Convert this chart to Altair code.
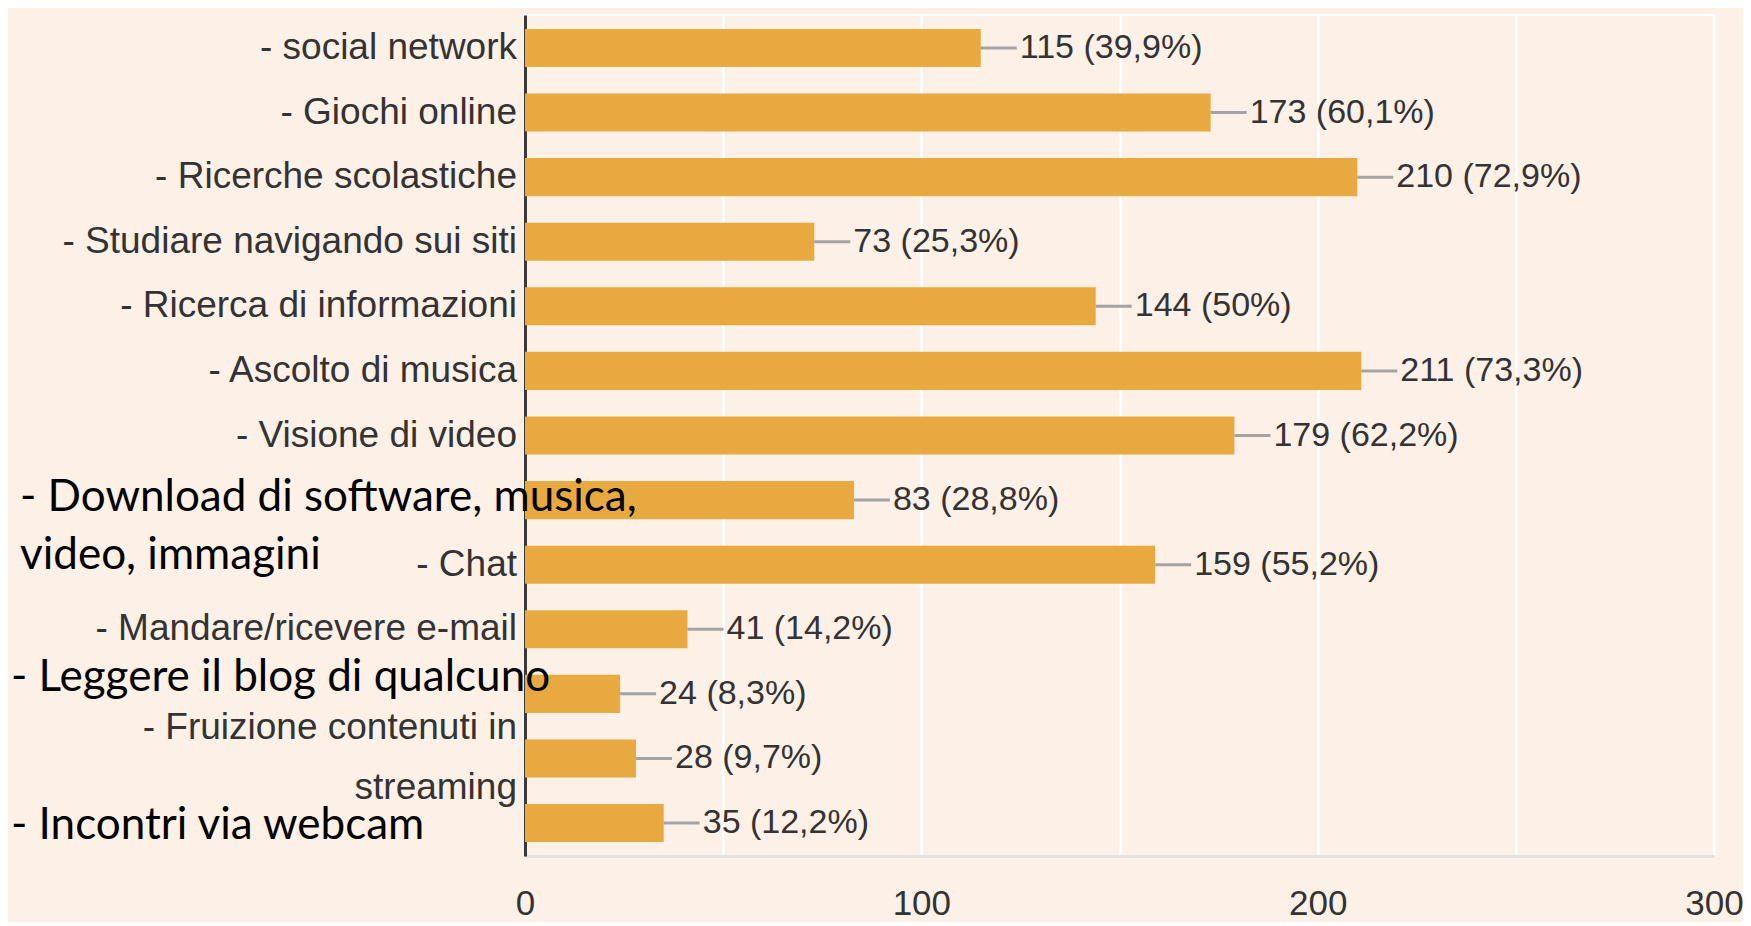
import altair as alt
import pandas as pd

categories = [
    "- social network",
    "- Giochi online",
    "- Ricerche scolastiche",
    "- Studiare navigando sui siti",
    "- Ricerca di informazioni",
    "- Ascolto di musica",
    "- Visione di video",
    "- Download di software, musica, video, immagini",
    "- Chat",
    "- Mandare/ricevere e-mail",
    "- Leggere il blog di qualcuno",
    "- Fruizione contenuti in streaming",
    "- Incontri via webcam",
]
counts = [115, 173, 210, 73, 144, 211, 179, 83, 159, 41, 24, 28, 35]
percents = [39.9, 60.1, 72.9, 25.3, 50, 73.3, 62.2, 28.8, 55.2, 14.2, 8.3, 9.7, 12.2]
overlay_categories = [
    "- Download di software, musica, video, immagini",
    "- Leggere il blog di qualcuno",
    "- Incontri via webcam",
]
wrapped_category = "- Fruizione contenuti in streaming"
x_grid_values = [0, 50, 100, 150, 200, 250, 300]

df = pd.DataFrame({"category": categories, "count": counts, "pct": percents})
df["overlay"] = df["category"].isin(overlay_categories)
df["wrapped"] = df["category"] == wrapped_category

SANS = "Liberation Sans"
TEXT = "#333333"

y_enc = alt.Y(
    "category:N",
    sort=categories,
    scale=alt.Scale(paddingInner=0.41, paddingOuter=0.215),
    axis=alt.Axis(labels=False, ticks=False, title=None, grid=False,
                  domainColor="#3a3a3a", domainWidth=3),
)

base = alt.Chart(df).transform_calculate(
    label="datum.count + ' (' + replace(toString(datum.pct), '.', ',') + '%)'",
    display="replace(replace(datum.category, ' in streaming', ' in\\nstreaming'), 'musica, video', 'musica,\\nvideo')",
)

bars = base.mark_bar(color="#E8AA40").encode(
    x=alt.X(
        "count:Q",
        scale=alt.Scale(domain=[0, 300], nice=False),
        axis=alt.Axis(
            values=x_grid_values,
            labelExpr="datum.value % 100 === 0 ? datum.label : ''",
            title=None, ticks=False, domain=True,
            domainColor="#e2e2e2", domainWidth=3,
            gridColor="#ffffff", gridWidth=2.5,
            labelFont=SANS, labelFontSize=35, labelColor=TEXT,
            labelPadding=30, labelFlush=False,
        ),
    ),
    y=y_enc,
)

connectors = base.mark_rule(color="#a3a3a3", strokeWidth=3, x2Offset=36).encode(
    x="count:Q", x2="count:Q", y=y_enc
)

values = base.mark_text(
    align="left", baseline="middle", dx=39, font=SANS, fontSize=34, color=TEXT
).encode(x="count:Q", y=y_enc, text="label:N")

gray_labels = base.transform_filter("!datum.overlay && !datum.wrapped").mark_text(
    align="right", baseline="middle", font=SANS, fontSize=37, color=TEXT,
).encode(x=alt.value(-8), y=y_enc, text="display:N")

gray_wrapped = base.transform_filter("datum.wrapped").mark_text(
    align="right", baseline="middle", font=SANS, fontSize=37, color=TEXT,
    lineBreak="\n", lineHeight=60, dy=-30,
).encode(x=alt.value(-8), y=y_enc, text="display:N")

overlay_pos = {
    "- Download di software, musica, video, immagini": (-505, -2),
    "- Leggere il blog di qualcuno": (-514, -16),
    "- Incontri via webcam": (-514, 3),
}
overlay_layers = []
for cat in overlay_categories:
    ox, ody = overlay_pos[cat]
    overlay_layers.append(
        base.transform_filter(alt.datum.category == cat).mark_text(
            align="left", baseline="middle", font="Lato", fontSize=44,
            color="#000000", lineBreak="\n", lineHeight=58, dy=ody,
        ).encode(x=alt.value(ox), y=y_enc, text="display:N")
    )

chart = alt.layer(
    bars, connectors, values, gray_labels, gray_wrapped, *overlay_layers
).properties(
    width=1189,
    height=841,
    autosize=alt.AutoSizeParams(type="none"),
    padding={"left": 517, "top": 7, "right": 29, "bottom": 66},
).configure(background="#FDF0E7").configure_view(stroke="#ffffff", strokeWidth=2)

chart.save("out.html", embed_options={"renderer": "svg", "actions": False})
